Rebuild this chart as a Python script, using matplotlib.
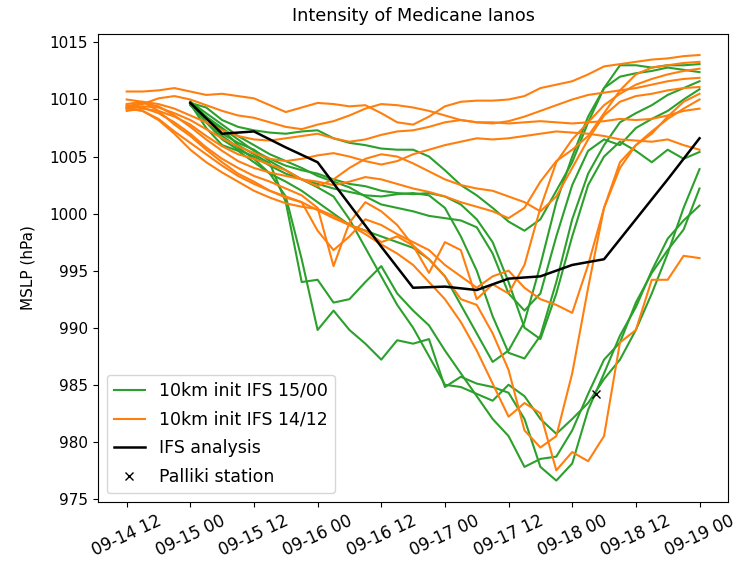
import numpy as np
import pandas as pd
import matplotlib
matplotlib.use('Agg')
import matplotlib.pyplot as plt
import matplotlib.dates as mdates

# 3-hourly MSLP minima (hPa) of each ensemble member
# init 14/12 runs cover 2020-09-14 12 .. 2020-09-19 00
times_1412 = pd.date_range('2020-09-14 12:00', '2020-09-19 00:00', freq='3h')
# init 15/00 runs cover 2020-09-15 00 .. 2020-09-19 00
times_1500 = pd.date_range('2020-09-15 00:00', '2020-09-19 00:00', freq='3h')

run_1412_a = [1010.7, 1010.7, 1010.8, 1011.0, 1010.7, 1010.4, 1010.5, 1010.3, 1010.1, 1009.5, 1008.9, 1009.3, 1009.7,
              1009.6, 1009.4, 1009.5, 1008.8, 1008.0, 1007.8, 1008.5, 1009.4, 1009.8, 1009.9, 1009.9, 1010.0, 1010.3,
              1011.0, 1011.3, 1011.6, 1012.2, 1012.9, 1013.1, 1013.3, 1013.5, 1013.6, 1013.8, 1013.9]
run_1412_b = [1009.3, 1009.6, 1010.1, 1010.3, 1010.0, 1009.5, 1009.0, 1008.6, 1008.4, 1008.0, 1007.6, 1007.4, 1007.8,
              1008.1, 1008.6, 1009.2, 1009.6, 1009.5, 1009.3, 1009.0, 1008.6, 1008.2, 1008.0, 1007.9, 1008.1, 1008.5,
              1009.0, 1009.5, 1010.0, 1010.4, 1010.6, 1010.8, 1011.0, 1011.3, 1011.6, 1011.8, 1011.9]
run_1412_c = [1009.6, 1009.8, 1009.6, 1009.2, 1008.6, 1008.0, 1007.3, 1006.8, 1006.5, 1006.4, 1006.6, 1006.8, 1007.0,
              1006.6, 1006.3, 1006.5, 1006.9, 1007.2, 1007.3, 1007.6, 1008.0, 1008.2, 1008.0, 1008.0, 1007.9, 1008.0,
              1008.1, 1008.0, 1007.9, 1008.0, 1008.1, 1008.3, 1008.2, 1008.3, 1008.6, 1009.0, 1009.2]
run_1412_d = [1009.2, 1009.4, 1009.3, 1008.8, 1008.2, 1007.4, 1006.6, 1005.9, 1005.3, 1004.8, 1004.6, 1004.8, 1005.1,
              1005.3, 1005.0, 1004.6, 1004.3, 1004.6, 1005.2, 1005.6, 1006.0, 1006.3, 1006.6, 1006.5, 1006.6, 1006.8,
              1007.0, 1007.2, 1007.1, 1007.0, 1006.8, 1006.5, 1006.4, 1006.3, 1006.5, 1006.0, 1005.6]
run_1412_e = [1009.4, 1009.7, 1009.4, 1008.6, 1007.6, 1006.5, 1005.5, 1004.6, 1004.0, 1003.6, 1003.3, 1003.0, 1002.8,
              1002.5, 1002.8, 1003.2, 1003.0, 1002.6, 1002.2, 1001.9, 1001.5, 1001.0, 1000.6, 1000.2, 999.6, 1000.5,
              1002.8, 1004.6, 1005.6, 1006.8, 1008.8, 1010.8, 1012.2, 1012.8, 1013.0, 1013.2, 1013.3]
run_1412_f = [1009.5, 1009.3, 1008.8, 1008.0, 1007.0, 1005.8, 1004.8, 1004.0, 1003.3, 1002.8, 1002.2, 1001.6, 1000.5,
              995.4, 999.2, 1001.0, 1000.2, 999.0, 997.2, 994.8, 997.5, 996.8, 992.5, 993.8, 993.0, 995.5,
              1000.5, 1004.5, 1006.5, 1008.0, 1009.5, 1010.5, 1011.3, 1011.8, 1012.2, 1012.5, 1012.7]
run_1412_g = [1009.2, 1009.0, 1008.3, 1007.2, 1006.2, 1005.2, 1004.2, 1003.3, 1002.6, 1002.0, 1001.4, 1001.0, 998.5,
              996.8, 998.0, 999.5, 999.0, 998.2, 997.5, 996.8, 995.5, 994.5, 993.5, 994.5, 995.0, 993.5,
              992.5, 992.0, 991.3, 995.5, 1000.5, 1004.0, 1006.0, 1007.2, 1008.3, 1009.2, 1010.0]
run_1412_h = [1009.3, 1009.0, 1008.2, 1007.0, 1005.6, 1004.5, 1003.6, 1002.8, 1002.0, 1001.4, 1000.9, 1000.6, 1000.4,
              999.8, 999.0, 998.2, 997.3, 996.5, 995.5, 994.0, 992.5, 990.5, 988.0, 985.1, 982.2, 983.4,
              982.5, 977.5, 979.1, 978.3, 980.5, 988.7, 989.8, 994.2, 994.2, 996.3, 996.1]
run_1412_i = [1010.0, 1009.8, 1009.0, 1007.8, 1006.8, 1005.6, 1004.5, 1003.5, 1002.8, 1002.0, 1001.5, 1001.0, 1000.3,
              999.6, 999.0, 998.5, 997.5, 998.0, 997.2, 996.0, 994.5, 992.5, 992.0, 989.5, 986.3, 981.0,
              979.5, 980.5, 986.0, 993.5, 1000.5, 1004.5, 1006.0, 1007.0, 1008.5, 1009.8, 1010.5]
run_1412_j = [1009.0, 1009.2, 1009.0, 1008.5, 1007.8, 1006.8, 1005.9, 1005.2, 1004.8, 1004.3, 1003.8, 1003.0, 1002.4,
              1003.0, 1004.0, 1004.8, 1005.2, 1005.0, 1004.4, 1003.7, 1003.0, 1002.5, 1002.2, 1002.0, 1001.5, 1001.0,
              1000.2, 1001.5, 1004.0, 1006.5, 1008.6, 1009.8, 1010.3, 1010.5, 1010.8, 1011.0, 1011.1]

run_1500_a = [1009.7, 1008.0, 1006.8, 1005.8, 1004.8, 1003.5, 1001.5, 996.0, 989.8, 991.5, 989.8, 988.6, 987.2,
              988.9, 988.6, 989.0, 984.8, 985.7, 985.1, 984.8, 984.3, 982.0, 977.8, 976.6, 978.1, 982.8,
              986.0, 989.3, 991.8, 995.0, 997.8, 999.4, 1000.7]
run_1500_b = [1009.5, 1008.3, 1007.4, 1006.0, 1005.2, 1004.4, 1001.0, 994.0, 994.2, 992.2, 992.5, 994.0, 995.4,
              993.0, 991.5, 990.2, 988.0, 986.0, 984.0, 982.0, 980.5, 977.8, 978.5, 978.7, 981.0, 984.2,
              987.2, 988.7, 992.2, 994.8, 996.8, 998.6, 1002.2]
run_1500_c = [1009.8, 1008.5, 1007.0, 1006.2, 1005.6, 1004.6, 1003.8, 1003.0, 1002.3, 1001.5, 999.5, 997.0, 994.5,
              992.0, 990.0, 987.5, 985.0, 984.8, 984.2, 983.6, 985.0, 984.0, 982.0, 980.7, 982.0, 983.4,
              985.5, 987.2, 989.8, 993.0, 996.5, 1000.5, 1003.9]
run_1500_d = [1009.7, 1009.3, 1008.2, 1007.6, 1007.3, 1007.1, 1007.0, 1007.2, 1007.3, 1006.6, 1006.2, 1006.0, 1005.7,
              1005.6, 1005.6, 1005.0, 1003.8, 1002.5, 1001.6, 1000.5, 999.3, 998.5, 999.5, 1002.0, 1004.5, 1008.0,
              1011.0, 1013.0, 1013.0, 1012.8, 1013.0, 1013.0, 1013.1]
run_1500_e = [1009.6, 1008.0, 1006.5, 1005.6, 1005.0, 1004.2, 1003.5, 1003.0, 1002.6, 1002.2, 1001.9, 1001.6, 1001.5,
              1001.7, 1001.8, 1001.6, 1000.5, 998.0, 995.0, 991.0, 987.8, 987.3, 989.3, 994.0, 999.5, 1003.5,
              1006.0, 1008.0, 1008.8, 1009.5, 1010.4, 1011.0, 1011.6]
run_1500_f = [1009.5, 1008.5, 1007.5, 1006.5, 1005.5, 1004.8, 1004.2, 1003.8, 1003.5, 1003.0, 1002.6, 1002.4, 1002.0,
              1001.8, 1001.7, 1001.8, 1001.5, 1000.8, 999.5, 997.5, 994.0, 990.0, 989.0, 993.0, 998.0, 1002.5,
              1005.0, 1006.3, 1005.5, 1004.5, 1005.6, 1004.8, 1005.4]
run_1500_g = [1009.8, 1008.8, 1007.8, 1006.8, 1006.0, 1005.2, 1004.6, 1004.0, 1003.3, 1002.8, 1002.3, 1001.5, 1000.8,
              1000.5, 1000.2, 999.8, 999.6, 999.4, 998.8, 996.5, 993.0, 991.5, 993.0, 998.0, 1002.5, 1005.5,
              1006.5, 1006.0, 1007.5, 1008.3, 1009.0, 1010.0, 1010.9]
run_1500_h = [1009.6, 1007.5, 1006.0, 1005.5, 1004.5, 1003.5, 1002.8, 1002.0, 1001.0, 1000.0, 999.0, 998.5, 998.0,
              997.5, 997.0, 996.0, 994.5, 992.0, 989.5, 987.0, 988.0, 990.5, 995.5, 1001.0, 1005.0, 1008.5,
              1011.0, 1012.0, 1012.3, 1012.5, 1012.8, 1012.6, 1012.4]

runs_1500 = [run_1500_a, run_1500_b, run_1500_c, run_1500_d, run_1500_e, run_1500_f, run_1500_g, run_1500_h]
runs_1412 = [run_1412_a, run_1412_b, run_1412_c, run_1412_d, run_1412_e, run_1412_f, run_1412_g, run_1412_h,
             run_1412_i, run_1412_j]

# IFS analysis, 6-hourly
ifs_times = pd.date_range('2020-09-15 00:00', '2020-09-19 00:00', freq='6h')
ifs_mslp = [1009.7, 1007.0, 1007.2, 1005.8, 1004.5, 1000.8, 997.1, 993.5, 993.6, 993.3, 994.3, 994.5, 995.5,
            996.0, 999.5, 1003.0, 1006.6]

# Palliki station observation
palliki_time = pd.Timestamp('2020-09-18 04:30')
palliki_mslp = 984.2

fig = plt.figure(figsize=(7.37, 5.62), dpi=100)
ax = fig.add_axes([0.133, 0.107, 0.855, 0.833])

for i, run in enumerate(runs_1500):
    ax.plot(times_1500, run, color='tab:green', label='10km init IFS 15/00' if i == 0 else None)
for i, run in enumerate(runs_1412):
    ax.plot(times_1412, run, color='tab:orange', label='10km init IFS 14/12' if i == 0 else None)
ax.plot(ifs_times, ifs_mslp, color='black', lw=1.8, label='IFS analysis')
ax.plot([palliki_time], [palliki_mslp], 'x', color='black', label='Palliki station')

ax.set_yticks(np.arange(975, 1016, 5))
ax.xaxis.set_major_locator(mdates.HourLocator(byhour=[0, 12]))
ax.xaxis.set_major_formatter(mdates.DateFormatter('%m-%d %H'))
ax.tick_params(axis='y', labelsize=11)
ax.tick_params(axis='x', labelsize=12)
plt.setp(ax.get_xticklabels(), rotation=25)

ax.set_ylabel('MSLP (hPa)', fontsize=11, labelpad=10)
ax.set_title('Intensity of Medicane Ianos', fontsize=12.7, pad=9)
ax.legend(loc='lower left', fontsize=12.5, labelspacing=0.62, handlelength=1.8)

plt.savefig('out.png')
